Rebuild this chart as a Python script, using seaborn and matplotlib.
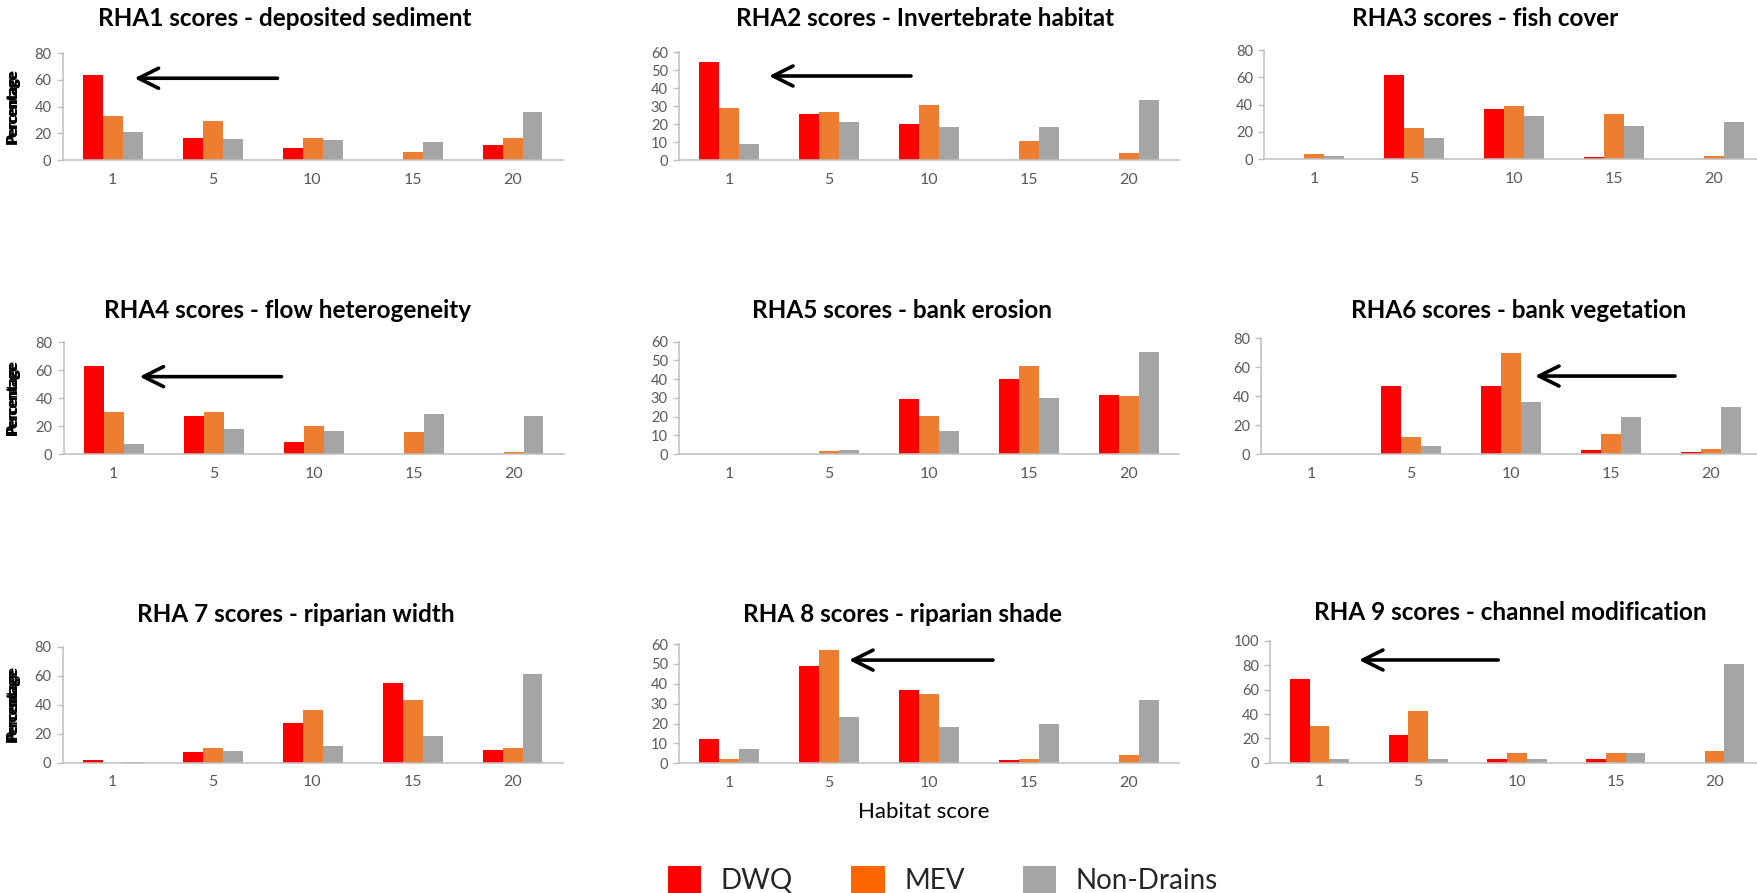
import numpy as np
import pandas as pd
import matplotlib
matplotlib.use("Agg")
import matplotlib.pyplot as plt
import seaborn as sns
from matplotlib.patches import Patch

sns.set_theme(style="white")
plt.rcParams["font.family"] = ["Lato", "DejaVu Sans"]

# ---- data -----------------------------------------------------------------
scores = ["1", "5", "10", "15", "20"]
groups = ["DWQ", "MEV", "Non-Drains"]

titles = [
    "RHA1 scores - deposited sediment",
    "RHA2 scores - Invertebrate habitat",
    "RHA3 scores - fish cover",
    "RHA4 scores - flow heterogeneity",
    "RHA5 scores - bank erosion",
    "RHA6 scores - bank vegetation",
    "RHA 7 scores - riparian width",
    "RHA 8 scores - riparian shade",
    "RHA 9 scores - channel modification",
]

rha1_dwq = [63.5, 16.8, 9.0, 0.0, 11.3]
rha1_mev = [33.3, 29.3, 16.8, 6.0, 16.8]
rha1_nd = [21.0, 15.8, 15.0, 13.5, 35.8]

rha2_dwq = [54.5, 25.8, 20.3, 0.0, 0.0]
rha2_mev = [29.2, 27.0, 30.5, 10.4, 4.1]
rha2_nd = [8.9, 21.2, 18.6, 18.2, 33.5]

rha3_dwq = [0.0, 62.0, 37.0, 1.5, 0.0]
rha3_mev = [3.9, 22.7, 38.8, 33.0, 2.2]
rha3_nd = [2.4, 15.4, 31.5, 24.6, 27.0]

rha4_dwq = [63.0, 27.2, 8.4, 0.0, 0.0]
rha4_mev = [30.3, 30.3, 19.8, 16.0, 1.2]
rha4_nd = [7.4, 17.9, 16.5, 28.9, 27.4]

rha5_dwq = [0.0, 0.0, 29.5, 39.9, 31.3]
rha5_mev = [0.0, 1.4, 20.5, 47.0, 30.8]
rha5_nd = [0.0, 2.1, 12.3, 29.7, 54.6]

rha6_dwq = [0.0, 47.0, 47.0, 2.8, 1.2]
rha6_mev = [0.0, 11.8, 69.6, 14.0, 3.2]
rha6_nd = [0.0, 5.8, 35.7, 25.6, 32.5]

rha7_dwq = [1.6, 7.1, 27.4, 54.7, 9.0]
rha7_mev = [0.0, 10.3, 36.6, 43.0, 10.3]
rha7_nd = [0.7, 8.0, 11.3, 18.6, 61.2]

rha8_dwq = [12.4, 48.7, 36.7, 1.7, 0.0]
rha8_mev = [2.0, 57.1, 35.0, 2.0, 4.0]
rha8_nd = [7.0, 23.1, 18.1, 19.8, 31.8]

rha9_dwq = [69.0, 23.0, 3.3, 3.3, 0.0]
rha9_mev = [30.1, 42.7, 7.7, 7.7, 9.9]
rha9_nd = [3.3, 3.3, 3.3, 7.7, 81.0]

panel_values = [
    (rha1_dwq, rha1_mev, rha1_nd),
    (rha2_dwq, rha2_mev, rha2_nd),
    (rha3_dwq, rha3_mev, rha3_nd),
    (rha4_dwq, rha4_mev, rha4_nd),
    (rha5_dwq, rha5_mev, rha5_nd),
    (rha6_dwq, rha6_mev, rha6_nd),
    (rha7_dwq, rha7_mev, rha7_nd),
    (rha8_dwq, rha8_mev, rha8_nd),
    (rha9_dwq, rha9_mev, rha9_nd),
]

y_max = [80, 60, 80, 80, 60, 80, 80, 60, 100]
y_step = [20, 10, 20, 20, 10, 20, 20, 10, 20]

# ---- styling / layout (pixels on a 1757 x 893 canvas) ---------------------
W, H = 1757, 893
bar_colors = {"DWQ": "#FF0000", "MEV": "#ED7D31", "Non-Drains": "#A5A5A5"}
legend_colors = {"DWQ": "#FF0000", "MEV": "#FF6600", "Non-Drains": "#A6A6A6"}
axis_grey = "#BFBFBF"
label_grey = "#595959"

# left, top, right, bottom of each plotting area
boxes = [
    (62.5, 53.3, 562.5, 160.0), (679, 52.3, 1179, 160.0), (1264, 50.0, 1764, 159.3),
    (63.5, 342.3, 563.5, 454.0), (679, 341.7, 1179, 454.0), (1261, 338.3, 1761, 454.0),
    (62.5, 646.7, 562.5, 762.7), (679, 644.0, 1179, 763.3), (1270, 641.0, 1764, 762.7),
]
# title centres
title_pos = [
    (285, 18), (925, 18), (1485, 18),
    (287, 311), (902, 311), (1519, 311),
    (296, 615), (902, 614), (1510, 612),
]
# arrows: (panel, head x, head y, tail x, tail y) in category / percentage units
arrows = [
    (0, 0.22, 61.3, 1.65, 61.3),
    (1, 0.40, 46.8, 1.82, 46.8),
    (3, 0.26, 55.4, 1.68, 55.4),
    (5, 2.24, 53.9, 3.64, 53.9),
    (7, 1.20, 51.9, 2.64, 51.9),
    (8, 0.40, 84.4, 1.81, 84.4),
]

fig = plt.figure(figsize=(W / 100, H / 100), dpi=100)
axes = []
for i, (l, t, r, b) in enumerate(boxes):
    ax = fig.add_axes([l / W, 1 - b / H, (r - l) / W, (b - t) / H])
    axes.append(ax)
    dwq, mev, nd = panel_values[i]
    df = pd.DataFrame({
        "score": scores * 3,
        "group": np.repeat(groups, len(scores)),
        "pct": list(dwq) + list(mev) + list(nd),
    })
    sns.barplot(data=df, x="score", y="pct", hue="group", order=scores,
                hue_order=groups, palette=bar_colors, width=0.6, saturation=1,
                linewidth=0, errorbar=None, legend=False, ax=ax)
    ax.set_xlim(-0.5, 4.5)
    ax.set_ylim(0, y_max[i])
    ax.set_yticks(np.arange(0, y_max[i] + 1, y_step[i]))
    ax.set_xticks(np.arange(-0.5, 5.0, 1.0), minor=True)
    ax.tick_params(axis="x", which="major", length=0, pad=9,
                   labelsize=11.5, labelcolor=label_grey)
    ax.tick_params(axis="x", which="minor", length=5, width=1,
                   color=axis_grey, direction="out")
    ax.tick_params(axis="y", which="major", length=4, width=1, pad=4,
                   color=axis_grey, direction="out", labelsize=10.5,
                   labelcolor=label_grey, left=True)
    for side in ("top", "right"):
        ax.spines[side].set_visible(False)
    for side in ("left", "bottom"):
        ax.spines[side].set_color(axis_grey)
        ax.spines[side].set_linewidth(1.1)
    ax.set_xlabel("")
    ax.set_ylabel("Percentage", fontsize=10.5, fontweight="bold", color="black")
    ax.yaxis.set_label_coords(-(l - 20) / (r - l), 0.5)
    ax.set_facecolor("none")

    tx, ty = title_pos[i]
    fig.text(tx / W, 1 - ty / H, titles[i], ha="center", va="center",
             fontsize=17.5, fontweight="bold", color="black")

for p, hx, hy, tx, ty in arrows:
    axes[p].annotate("", xy=(hx, hy), xytext=(tx, ty),
                     arrowprops=dict(arrowstyle="->,head_length=0.4,head_width=0.2",
                                     lw=2.6, color="black", mutation_scale=36,
                                     shrinkA=0, shrinkB=0))

fig.text(924 / W, 1 - 812 / H, "Habitat score", ha="center", va="center",
         fontsize=16, color="black")

handles = [Patch(facecolor=legend_colors[g], edgecolor="none", label=g) for g in groups]
fig.legend(handles=handles, loc="center", ncol=3, frameon=False,
           bbox_to_anchor=(943 / W, 1 - 880 / H), fontsize=20,
           handlelength=1.2, handleheight=1.1, handletextpad=0.7,
           columnspacing=2.1, borderpad=0, borderaxespad=0)

fig.savefig("out.png", dpi=100, facecolor="white")
